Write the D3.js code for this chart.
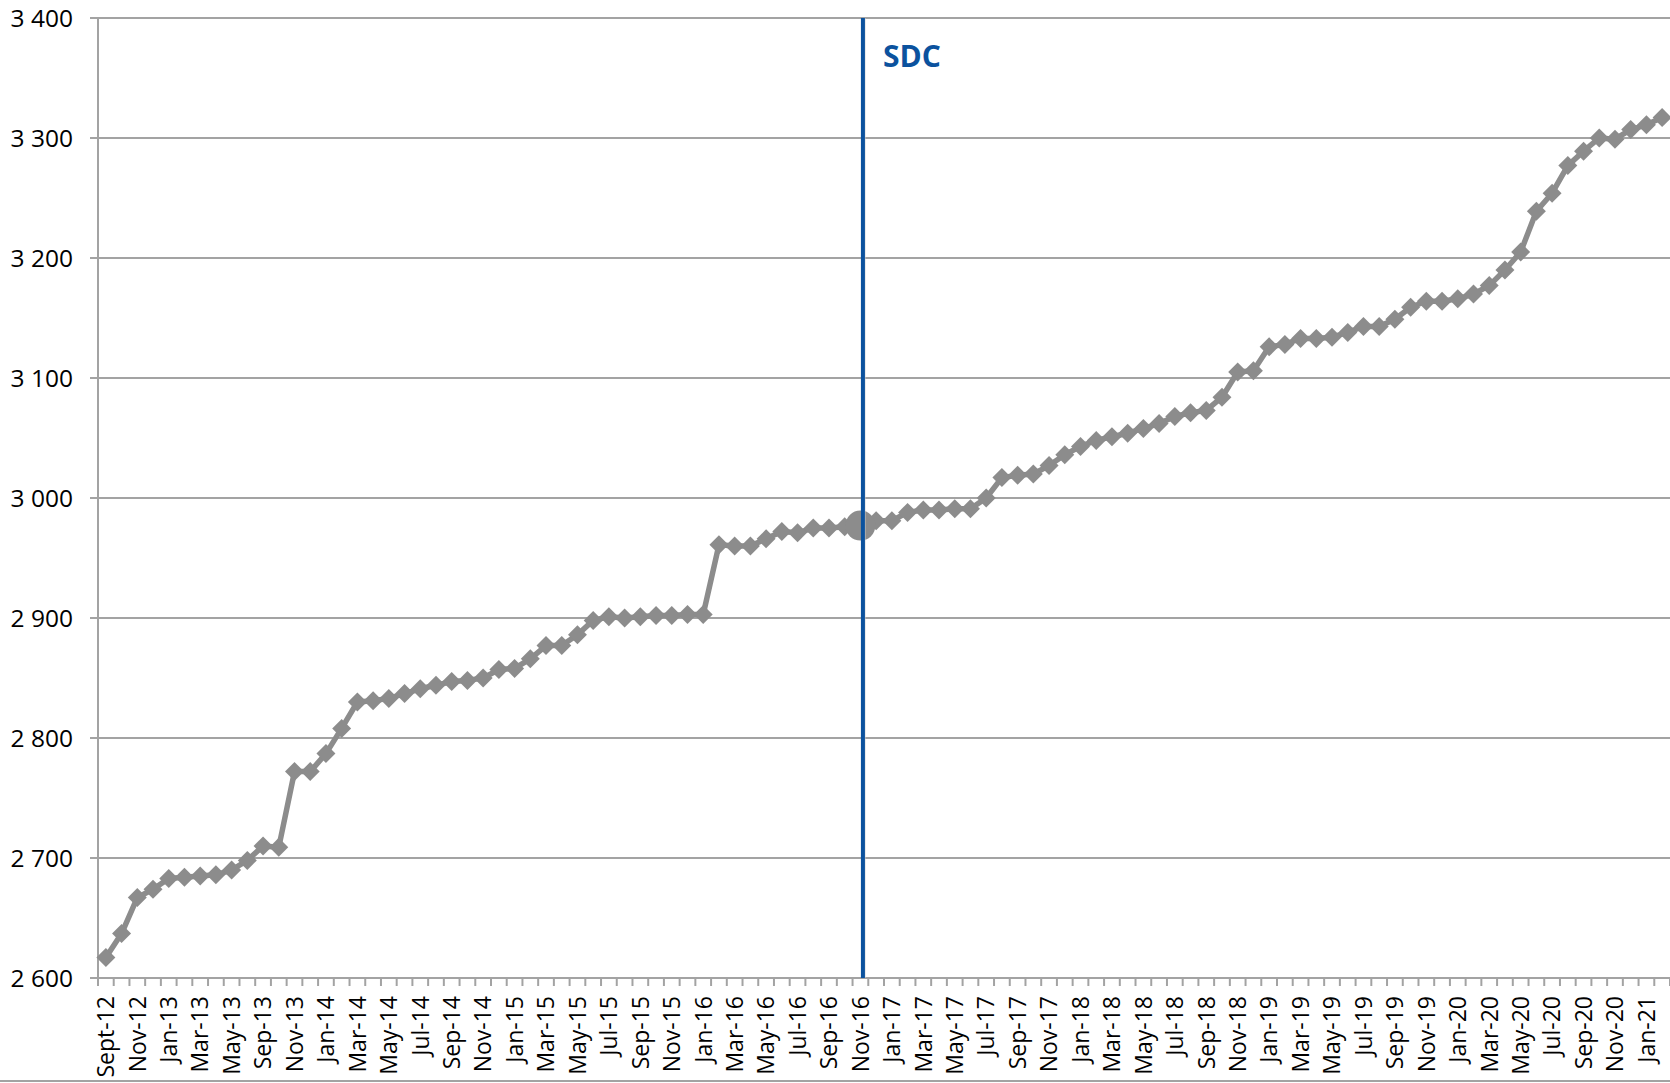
<!DOCTYPE html>
<html>
<head>
<meta charset="utf-8">
<script src="https://cdn.jsdelivr.net/npm/d3@7"></script>
<style>
  html, body { margin: 0; padding: 0; background: #ffffff; }
  svg { display: block; }
</style>
</head>
<body>
<svg id="chart" width="1670" height="1083"></svg>
<script>
const categories = [
  "Sept-12","Oct-12","Nov-12","Dec-12","Jan-13","Feb-13","Mar-13","Apr-13","May-13","Jul-13",
  "Sep-13","Oct-13","Nov-13","Dec-13","Jan-14","Feb-14","Mar-14","Apr-14","May-14","Jun-14",
  "Jul-14","Aug-14","Sep-14","Oct-14","Nov-14","Dec-14","Jan-15","Feb-15","Mar-15","Apr-15",
  "May-15","Jun-15","Jul-15","Aug-15","Sep-15","Oct-15","Nov-15","Dec-15","Jan-16","Feb-16",
  "Mar-16","Apr-16","May-16","Jun-16","Jul-16","Aug-16","Sep-16","Oct-16","Nov-16","Dec-16",
  "Jan-17","Feb-17","Mar-17","Apr-17","May-17","Jun-17","Jul-17","Aug-17","Sep-17","Oct-17",
  "Nov-17","Dec-17","Jan-18","Feb-18","Mar-18","Apr-18","May-18","Jun-18","Jul-18","Aug-18",
  "Sep-18","Oct-18","Nov-18","Dec-18","Jan-19","Feb-19","Mar-19","Apr-19","May-19","Jun-19",
  "Jul-19","Aug-19","Sep-19","Oct-19","Nov-19","Dec-19","Jan-20","Feb-20","Mar-20","Apr-20",
  "May-20","Jun-20","Jul-20","Aug-20","Sep-20","Oct-20","Nov-20","Dec-20","Jan-21","Feb-21"
];
const values = [
  2617,2637,2667,2674,2683,2684,2685,2686,2690,2698,
  2710,2709,2772,2772,2787,2808,2830,2831,2833,2837,
  2841,2844,2847,2848,2850,2857,2858,2866,2877,2877,
  2886,2898,2901,2900,2901,2902,2902,2903,2903,2961,
  2960,2960,2966,2972,2971,2975,2975,2976,2977,2981,
  2981,2988,2990,2990,2991,2991,3000,3017,3019,3020,
  3027,3036,3043,3048,3051,3054,3058,3062,3068,3071,
  3073,3084,3105,3106,3126,3128,3133,3133,3134,3138,
  3143,3143,3149,3159,3164,3164,3166,3170,3177,3190,
  3205,3239,3254,3277,3289,3300,3299,3307,3311,3317
];
const yTicks = [2600, 2700, 2800, 2900, 3000, 3100, 3200, 3300, 3400];
const markerCategory = "Nov-16";
const markerLabel = "SDC";

(function () {
const svg = d3.select("#chart");
const mLeft = 98, mRight = 1670, mTop = 18, mBottom = 978;

const x = d3.scaleBand().domain(categories).range([mLeft, mRight]).padding(0);
const y = d3.scaleLinear().domain([2600, 3400]).range([mBottom, mTop]);
const cx = d => x(d) + x.bandwidth() / 2;

const loc = d3.formatLocale({ decimal: ",", thousands: " ", grouping: [3], currency: ["", ""] });
const fmt = loc.format(",d");

const gridColor = "#a3a3a3";
const seriesColor = "#8c8c8c";
const blue = "#0b529e";

// gridlines
svg.append("g").selectAll("line").data(yTicks).join("line")
  .attr("x1", mLeft - 8).attr("x2", mRight)
  .attr("y1", d => y(d)).attr("y2", d => y(d))
  .attr("stroke", gridColor).attr("stroke-width", 2);

// y axis line
svg.append("line").attr("x1", mLeft).attr("x2", mLeft).attr("y1", mTop).attr("y2", mBottom + 8)
  .attr("stroke", gridColor).attr("stroke-width", 2);

// x ticks at band boundaries
const bounds = categories.map(c => x(c)).concat([mRight]);
svg.append("g").selectAll("line").data(bounds.slice(1)).join("line")
  .attr("x1", d => d).attr("x2", d => d)
  .attr("y1", mBottom).attr("y2", mBottom + 8)
  .attr("stroke", gridColor).attr("stroke-width", 2);

// y labels
svg.append("g").selectAll("text").data(yTicks).join("text")
  .attr("x", 73).attr("y", d => y(d)).attr("dy", "0.36em")
  .attr("text-anchor", "end")
  .attr("font-family", "'Open Sans', sans-serif").attr("font-size", 24.5)
  .attr("fill", "#000").text(d => fmt(d));

// x labels (every other category)
svg.append("g").selectAll("text").data(categories.filter((c, i) => i % 2 === 0)).join("text")
  .attr("transform", d => `translate(${cx(d)},996) rotate(-90)`)
  .attr("dy", "0.36em")
  .attr("text-anchor", "end")
  .attr("font-family", "'Open Sans', sans-serif").attr("font-size", 23)
  .attr("fill", "#000").text(d => d);

// series line
const pts = categories.map((c, i) => [cx(c), y(values[i])]);
svg.append("path").attr("d", d3.line()(pts))
  .attr("fill", "none").attr("stroke", seriesColor).attr("stroke-width", 5.5)
  .attr("stroke-linejoin", "round");

// diamond markers
const diamond = d3.symbol().type(d3.symbolSquare).size(180);
svg.append("g").selectAll("path").data(pts).join("path")
  .attr("d", diamond)
  .attr("transform", d => `translate(${d[0]},${d[1]}) rotate(45)`)
  .attr("fill", seriesColor);

// big circle at marker category
const mi = categories.indexOf(markerCategory);
svg.append("circle").attr("cx", cx(markerCategory)).attr("cy", y(values[mi])).attr("r", 15)
  .attr("fill", seriesColor);

// SDC vertical line
const lx = cx(markerCategory) + 2.5;
svg.append("line").attr("x1", lx + 1.5).attr("x2", lx + 1.5).attr("y1", mTop).attr("y2", mBottom)
  .attr("stroke", "#d0d0d0").attr("stroke-width", 2);
svg.append("line").attr("x1", lx).attr("x2", lx).attr("y1", mTop).attr("y2", mBottom)
  .attr("stroke", blue).attr("stroke-width", 4);
svg.append("text").attr("x", lx + 20).attr("y", 67)
  .attr("font-family", "'Open Sans', sans-serif").attr("font-weight", "bold").attr("font-size", 30)
  .attr("fill", blue).text(markerLabel);

// bottom border
svg.append("line").attr("x1", 0).attr("x2", 1670).attr("y1", 1081).attr("y2", 1081)
  .attr("stroke", gridColor).attr("stroke-width", 2);
})();
</script>
</body>
</html>
